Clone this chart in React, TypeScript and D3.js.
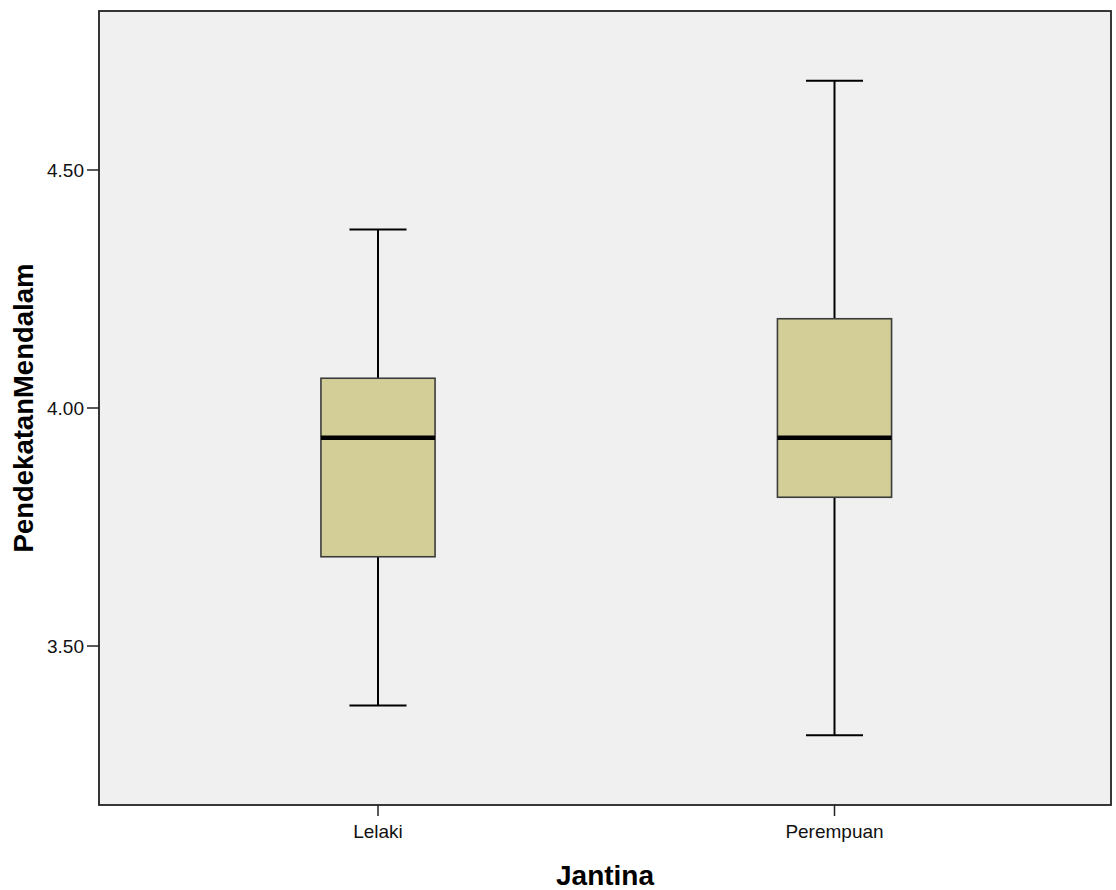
import React from "react";
import * as d3 from "d3";

const categories = ["Lelaki", "Perempuan"];
const whiskerLow = [3.375, 3.3125];
const q1 = [3.6875, 3.8125];
const median = [3.9375, 3.9375];
const q3 = [4.0625, 4.1875];
const whiskerHigh = [4.375, 4.6875];
const yTicks = [3.5, 4.0, 4.5];
const xTitle = "Jantina";
const yTitle = "PendekatanMendalam";

const W = 1116;
const H = 890;
const plot = { left: 99, top: 11, right: 1111, bottom: 805 };

export default function App() {
  const x = d3
    .scalePoint<string>()
    .domain(categories)
    .range([plot.left + 2.5, plot.right])
    .padding(0.6057);
  const step = x.step();
  const boxW = step * 0.25;
  const capW = boxW / 2;
  const y = d3.scaleLinear().domain([3.166, 4.834]).range([plot.bottom, plot.top]);
  const fmt = d3.format(".2f");
  const font = "'Liberation Sans', Arial, sans-serif";

  return (
    <svg
      width={W}
      height={H}
      style={{ position: "absolute", left: 0, top: 0, background: "#fff" }}
      fontFamily={font}
    >
      <rect
        x={plot.left}
        y={plot.top}
        width={plot.right - plot.left}
        height={plot.bottom - plot.top}
        fill="#F0F0F0"
      />
      {categories.map((c, i) => {
        const cx = x(c)!;
        return (
          <g key={c}>
            <line x1={cx} x2={cx} y1={y(whiskerHigh[i])} y2={y(q3[i])} stroke="#000" strokeWidth={2} />
            <line x1={cx} x2={cx} y1={y(q1[i])} y2={y(whiskerLow[i])} stroke="#000" strokeWidth={2} />
            <line x1={cx - capW / 2} x2={cx + capW / 2} y1={y(whiskerHigh[i])} y2={y(whiskerHigh[i])} stroke="#000" strokeWidth={2} />
            <line x1={cx - capW / 2} x2={cx + capW / 2} y1={y(whiskerLow[i])} y2={y(whiskerLow[i])} stroke="#000" strokeWidth={2} />
            <rect
              x={cx - boxW / 2}
              y={y(q3[i])}
              width={boxW}
              height={y(q1[i]) - y(q3[i])}
              fill="#D3CE98"
              stroke="#3c3c3c"
              strokeWidth={1.6}
            />
            <line x1={cx - boxW / 2} x2={cx + boxW / 2} y1={y(median[i])} y2={y(median[i])} stroke="#000" strokeWidth={4.5} />
          </g>
        );
      })}
      <rect
        x={plot.left}
        y={plot.top}
        width={plot.right - plot.left}
        height={plot.bottom - plot.top}
        fill="none"
        stroke="#222"
        strokeWidth={1.8}
      />
      {yTicks.map((t) => (
        <g key={t}>
          <line x1={plot.left - 12} x2={plot.left} y1={y(t)} y2={y(t)} stroke="#222" strokeWidth={1.5} />
          <text x={plot.left - 15} y={y(t)} dy="0.35em" textAnchor="end" fontSize={19} fill="#111">
            {fmt(t)}
          </text>
        </g>
      ))}
      {categories.map((c) => (
        <g key={"xt" + c}>
          <line x1={x(c)!} x2={x(c)!} y1={plot.bottom} y2={plot.bottom + 11} stroke="#222" strokeWidth={1.5} />
          <text x={x(c)!} y={plot.bottom + 33} textAnchor="middle" fontSize={19} fill="#111">
            {c}
          </text>
        </g>
      ))}
      <text
        x={(plot.left + plot.right) / 2}
        y={885}
        textAnchor="middle"
        fontSize={28}
        fontWeight="bold"
        fill="#000"
      >
        {xTitle}
      </text>
      <text
        transform={`translate(33, ${(plot.top + plot.bottom) / 2}) rotate(-90)`}
        textAnchor="middle"
        fontSize={27.5}
        fontWeight="bold"
        fill="#000"
      >
        {yTitle}
      </text>
    </svg>
  );
}
